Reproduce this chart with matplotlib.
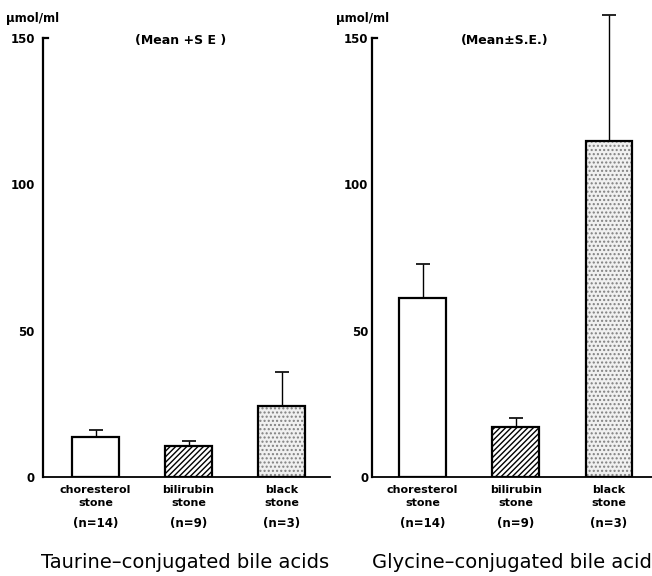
import matplotlib
matplotlib.use("Agg")
import matplotlib.pyplot as plt
import matplotlib.transforms as mtransforms

# values
categories = ["choresterol\nstone", "bilirubin\nstone", "black\nstone"]
n_labels = ["(n=14)", "(n=9)", "(n=3)"]
taurine_mean = [13.7, 10.6, 24.3]
taurine_se = [2.4, 1.7, 11.7]
glycine_mean = [61.0, 17.1, 114.7]
glycine_se = [11.6, 3.1, 43.3]
yticks = [0, 50, 100, 150]

plt.rcParams["font.family"] = ["DejaVu Sans"]
plt.rcParams["hatch.linewidth"] = 1.0

fig = plt.figure(figsize=(6.52, 5.76), dpi=100)
ax_t = fig.add_axes([0.066, 0.172, 0.44, 0.762])
ax_g = fig.add_axes([0.571, 0.172, 0.43, 0.762])


def draw_panel(ax, means, ses, note, note_x, title, xlim, title_x, ypad):
    x = list(range(len(means)))
    width = 0.5
    # plain bar
    ax.bar(x[0], means[0], width, facecolor="white", edgecolor="black", linewidth=1.6, zorder=3)
    # hatched bar
    ax.bar(x[1], means[1], width, facecolor="white", edgecolor="black", hatch="//////",
           linewidth=1.6, zorder=3)
    # stippled bar: grey dots then black outline
    ax.bar(x[2], means[2], width, facecolor="#f0f0f0", edgecolor="#808080", hatch="....",
           linewidth=0, zorder=3)
    ax.bar(x[2], means[2], width, fill=False, edgecolor="black", linewidth=1.6, zorder=4)

    ax.errorbar(x, means, yerr=[[0] * len(ses), ses], fmt="none", ecolor="black",
                elinewidth=1.0, capsize=5, capthick=1.2, zorder=2, clip_on=False)

    ax.set_xlim(*xlim)
    ax.set_ylim(0, 150)
    ax.set_yticks(yticks)
    ax.set_yticklabels([str(v) for v in yticks], fontsize=8.5, fontweight="bold")
    ax.tick_params(axis="y", length=0, pad=ypad)
    ax.set_xticks(x)
    ax.set_xticklabels(categories, fontsize=8, fontweight="bold", linespacing=1.4)
    ax.tick_params(axis="x", length=0, pad=6)

    ax.spines["top"].set_visible(False)
    ax.spines["right"].set_visible(False)
    ax.spines["left"].set_linewidth(1.6)
    ax.spines["bottom"].set_linewidth(1.3)
    ax.axhline(150, xmin=0, xmax=0.018, color="black", lw=1.6, clip_on=False)

    trans = mtransforms.blended_transform_factory(ax.transData, ax.transAxes)
    for xi, lab in zip(x, n_labels):
        ax.text(xi, -0.105, lab, transform=trans, ha="center", va="center",
                fontsize=8.5, fontweight="bold")

    ax.text(-0.13, 1.045, "μmol/ml", transform=ax.transAxes, ha="left", va="center",
            fontsize=8.5, fontweight="bold")
    ax.text(note_x, 0.995, note, transform=ax.transAxes, ha="left", va="center",
            fontsize=9, fontweight="bold")
    fig.text(title_x, 0.024, title, ha="left", va="center", fontsize=14)


draw_panel(ax_t, taurine_mean, taurine_se, "(Mean +S E )", 0.32,
           "Taurine\u2013conjugated bile acids", (-0.565, 2.52), 0.063, 6)
draw_panel(ax_g, glycine_mean, glycine_se, "(Mean\u00b1S.E.)", 0.315,
           "Glycine\u2013conjugated bile acids", (-0.54, 2.47), 0.570, 3)

fig.savefig("out.png", dpi=100)
